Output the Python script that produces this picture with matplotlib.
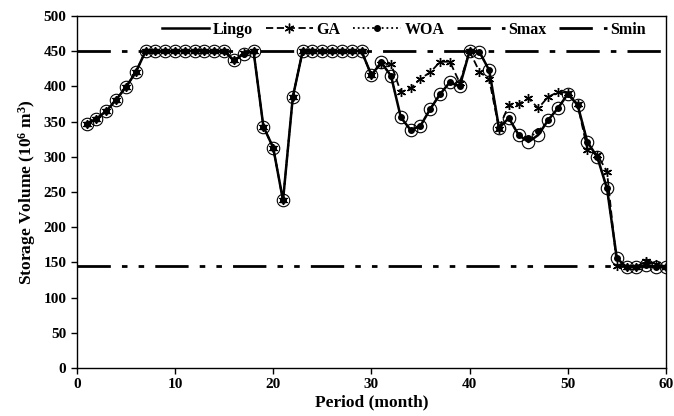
import numpy as np
import matplotlib
matplotlib.use('Agg')
import matplotlib.pyplot as plt
from matplotlib.lines import Line2D

plt.rcParams['font.family'] = 'Liberation Serif'
plt.rcParams['font.weight'] = 'bold'
plt.rcParams['mathtext.fontset'] = 'custom'
plt.rcParams['mathtext.rm'] = 'Liberation Serif:bold'
plt.rcParams['mathtext.it'] = 'Liberation Serif:bold'
plt.rcParams['mathtext.bf'] = 'Liberation Serif:bold'

period = list(range(1, 61))

lingo = [347, 354, 365, 381, 399, 420, 450, 450, 450, 450,
         450, 450, 450, 450, 450, 437, 446, 450, 343, 313,
         238, 385, 450, 450, 450, 450, 450, 450, 450, 416,
         434, 415, 356, 338, 344, 368, 389, 406, 400, 450,
         449, 423, 341, 355, 331, 321, 331, 352, 369, 389,
         374, 321, 300, 255, 156, 143, 143, 146, 143, 143]

woa = [347, 354, 365, 381, 399, 420, 450, 450, 450, 450,
       450, 450, 450, 450, 450, 437, 446, 450, 343, 313,
       238, 385, 450, 450, 450, 450, 450, 450, 450, 416,
       434, 415, 356, 338, 344, 368, 389, 406, 400, 450,
       449, 423, 341, 355, 331, 327, 336, 352, 369, 389,
       374, 321, 300, 255, 156, 143, 143, 146, 143, 143]

ga = [347, 354, 365, 381, 399, 420, 450, 450, 450, 450,
      450, 450, 450, 450, 450, 437, 448, 450, 343, 313,
      238, 385, 450, 450, 450, 450, 450, 450, 450, 416,
      432, 432, 392, 397, 411, 420, 435, 435, 405, 450,
      421, 410, 340, 374, 375, 383, 369, 385, 392, 391,
      375, 310, 303, 279, 145, 143, 144, 152, 148, 143]

smax = 450
smin = 145

fig = plt.figure(figsize=(6.74, 4.16), dpi=100)
ax = fig.add_axes([0.114, 0.1154, 0.874, 0.8462])

ax.axhline(smax, color='black', lw=2, dashes=(12, 4, 2, 4))
ax.axhline(smin, color='black', lw=2, dashes=(12, 4, 2, 4, 2, 4))

ax.plot(period, lingo, color='black', lw=1.8, marker='o', ms=9,
        mfc='none', mec='black', mew=0.8)
ax.plot(period, ga, color='black', lw=1.3, ls=(0, (4, 2)),
        marker=(6, 2, 0), ms=6.5, mew=1)
ax.plot(period, woa, color='black', lw=1.3, ls=':', marker='o', ms=4)

handles = [
    Line2D([], [], color='black', lw=1.8),
    Line2D([], [], color='black', lw=1.3, ls=(0, (4, 2)), marker=(6, 2, 0), ms=7, mew=1),
    Line2D([], [], color='black', lw=1.3, ls=':', marker='o', ms=4),
    Line2D([], [], color='black', lw=2, dashes=(12, 4, 2, 4)),
    Line2D([], [], color='black', lw=2, dashes=(12, 4, 2, 4, 2, 4)),
]
labels = ['Lingo', 'GA', 'WOA', 'Smax', 'Smin']
ax.legend(handles, labels, loc='upper center', bbox_to_anchor=(0.555, 1.025),
          ncol=5, frameon=False, handlelength=3.0, handletextpad=0.2,
          columnspacing=0.8, prop={'family': 'Liberation Serif', 'weight': 'bold', 'size': 11.5})

ax.set_xlim(0, 60)
ax.set_ylim(0, 500)
ax.set_xticks(range(0, 61, 10))
ax.set_yticks(range(0, 501, 50))
ax.tick_params(direction='out', length=4, labelsize=11, width=1)
for lab in ax.get_xticklabels() + ax.get_yticklabels():
    lab.set_fontweight('bold')
for s in ax.spines.values():
    s.set_linewidth(1)

ax.set_xlabel('Period (month)', fontsize=12.5, fontweight='bold', labelpad=2)
ax.set_ylabel(r'Storage Volume (10$^6$ m$^3$)', fontsize=12.5, fontweight='bold', labelpad=4)

fig.savefig('out.png', dpi=100)
